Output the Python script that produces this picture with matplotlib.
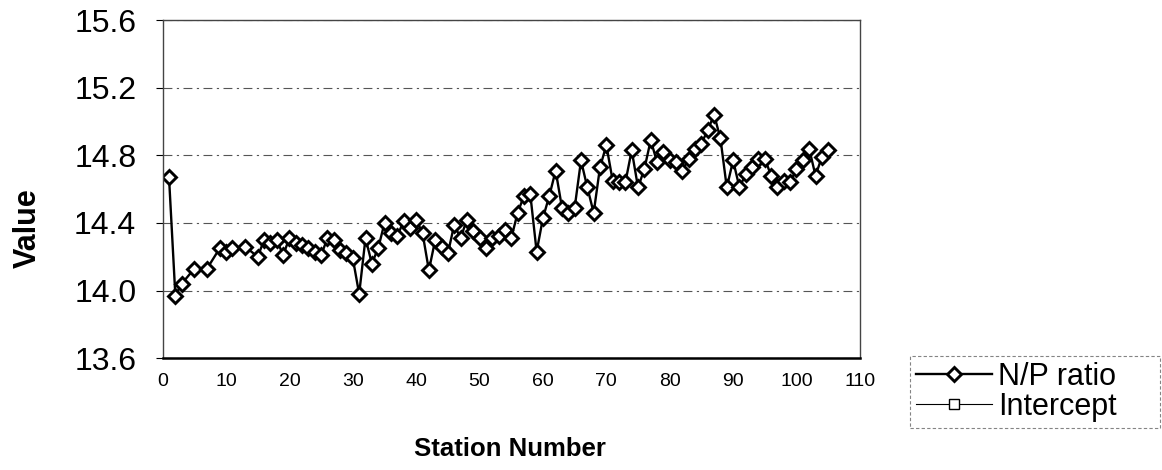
import matplotlib.pyplot as plt

# Station numbers and the N/P ratio measured at each one
stations = [1, 2, 3, 5, 7, 9, 10, 11, 13, 15, 16, 17, 18, 19, 20,
            21, 22, 23, 24, 25, 26, 27, 28, 29, 30, 31, 32, 33, 34, 35,
            36, 37, 38, 39, 40, 41, 42, 43, 44, 45, 46, 47, 48, 49, 50,
            51, 52, 53, 54, 55, 56, 57, 58, 59, 60, 61, 62, 63, 64, 65,
            66, 67, 68, 69, 70, 71, 72, 73, 74, 75, 76, 77, 78, 79, 80,
            81, 82, 83, 84, 85, 86, 87, 88, 89, 90, 91, 92, 93, 94, 95,
            96, 97, 98, 99, 100, 101, 102, 103, 104, 105]
np_ratio = [14.67, 13.97, 14.04, 14.13, 14.13, 14.25, 14.23, 14.25, 14.26, 14.20, 14.30, 14.28, 14.30, 14.21, 14.31,
            14.28, 14.27, 14.25, 14.23, 14.21, 14.31, 14.30, 14.24, 14.22, 14.19, 13.98, 14.31, 14.16, 14.25, 14.40,
            14.34, 14.32, 14.41, 14.37, 14.42, 14.34, 14.12, 14.30, 14.26, 14.22, 14.39, 14.31, 14.42, 14.35, 14.31,
            14.25, 14.31, 14.32, 14.36, 14.31, 14.46, 14.56, 14.57, 14.23, 14.43, 14.56, 14.71, 14.49, 14.46, 14.49,
            14.77, 14.61, 14.46, 14.73, 14.86, 14.65, 14.64, 14.64, 14.83, 14.61, 14.72, 14.89, 14.76, 14.82, 14.77,
            14.76, 14.71, 14.78, 14.84, 14.87, 14.95, 15.04, 14.90, 14.61, 14.77, 14.61, 14.69, 14.73, 14.78, 14.78,
            14.68, 14.61, 14.65, 14.64, 14.72, 14.77, 14.84, 14.68, 14.79, 14.83]

# Intercept series has no points in range, only its legend entry shows
intercept_x = []
intercept_y = []

x_ticks = [0, 10, 20, 30, 40, 50, 60, 70, 80, 90, 100, 110]
y_ticks = [13.6, 14.0, 14.4, 14.8, 15.2, 15.6]

plt.rcParams['font.family'] = ['Liberation Sans', 'DejaVu Sans']

fig = plt.figure(figsize=(11.62, 4.70), dpi=100)
ax = fig.add_axes([0.140, 0.238, 0.600, 0.719])

ax.plot(stations, np_ratio, color='black', linewidth=1.7, marker='D', markersize=7,
        markerfacecolor='white', markeredgecolor='black', markeredgewidth=2.1, label='N/P ratio')
ax.plot(intercept_x, intercept_y, color='black', linewidth=0.8, marker='s', markersize=7,
        markerfacecolor='white', markeredgecolor='black', markeredgewidth=1.0, label='Intercept')

ax.set_xlim(0, 110)
ax.set_ylim(13.6, 15.6)
ax.set_xticks(x_ticks)
ax.set_yticks(y_ticks)
ax.set_yticklabels(['%.1f' % v for v in y_ticks], fontsize=23)
ax.set_xticklabels([str(v) for v in x_ticks], fontsize=14)
ax.tick_params(axis='y', length=5, width=0.8, pad=14, direction='out', colors='black')
ax.tick_params(axis='x', length=0, pad=11)

# dashed gridlines and a dashed frame, solid baseline
ax.yaxis.grid(True, linestyle=(0, (8, 4, 2, 4)), color='#555555', linewidth=0.8)
ax.set_axisbelow(True)
for side in ['left', 'right', 'top']:
    ax.spines[side].set_linestyle((0, (2, 1)))
    ax.spines[side].set_color('#444444')
    ax.spines[side].set_linewidth(1.0)
ax.spines['bottom'].set_color('black')
ax.spines['bottom'].set_linewidth(1.8)

ax.set_xlabel('Station Number', fontsize=18.5, fontweight='bold')
ax.xaxis.set_label_coords(0.498, -0.234)
ax.set_ylabel('Value', fontsize=22, fontweight='bold')
ax.yaxis.set_label_coords(-0.172, 0.385)

leg = fig.legend(loc='lower left', bbox_to_anchor=(0.783, 0.089, 0.215, 0.17), mode='expand',
                 borderaxespad=0, fontsize=22, frameon=True, fancybox=False,
                 handlelength=2.5, handletextpad=0.2, borderpad=0.2, labelspacing=0.0)
leg.get_frame().set_edgecolor('#666666')
leg.get_frame().set_linestyle((0, (3, 2)))
leg.get_frame().set_linewidth(0.8)

fig.savefig('out.png', dpi=100)
